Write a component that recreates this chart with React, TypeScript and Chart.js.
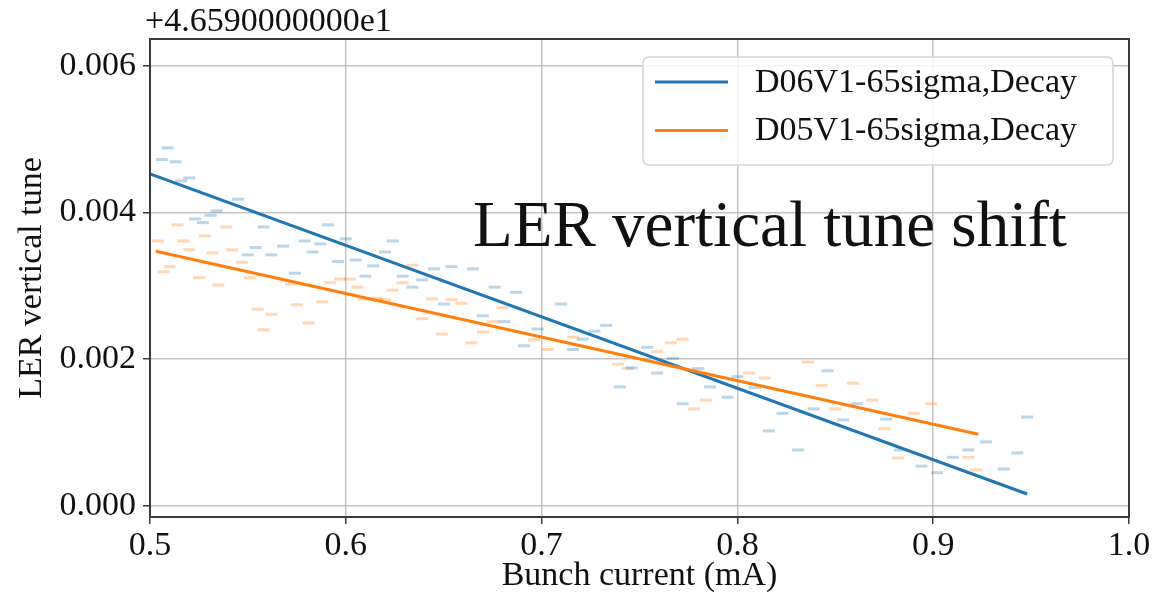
import { useEffect, useRef } from "react";
import { Chart, registerables } from "chart.js";

Chart.register(...registerables);

// Bunch current (mA) and vertical tune (offset from 46.59) for each measurement run
const D06_CURRENT = [
  0.509, 0.506, 0.513, 0.52, 0.516, 0.545, 0.534, 0.531, 0.523, 0.527, 0.558, 0.591,
  0.554, 0.55, 0.568, 0.579, 0.587, 0.583, 0.562, 0.596, 0.574, 0.6, 0.624, 0.62,
  0.605, 0.614, 0.61, 0.629, 0.634, 0.639, 0.645, 0.654, 0.665, 0.676, 0.687, 0.65,
  0.67, 0.681, 0.691, 0.71, 0.698, 0.716, 0.721, 0.727, 0.733, 0.754, 0.746, 0.759,
  0.767, 0.78, 0.74, 0.772, 0.786, 0.8, 0.795, 0.809, 0.846, 0.823, 0.839, 0.816,
  0.831, 0.854, 0.861, 0.876, 0.927, 0.918, 0.91, 0.894, 0.902, 0.943, 0.936, 0.948,
  0.883,
];
const D06_TUNE = [
  0.00488, 0.00472, 0.00469, 0.00447, 0.00443, 0.00418, 0.00402, 0.00396, 0.00391, 0.00386, 0.0038, 0.00383,
  0.00352, 0.00342, 0.00354, 0.00361, 0.00357, 0.00346, 0.00342, 0.00333, 0.00317, 0.00364, 0.00361, 0.00346,
  0.00335, 0.00327, 0.00313, 0.00313, 0.00298, 0.00308, 0.00323, 0.00326, 0.00323, 0.00298, 0.00291, 0.00275,
  0.00259, 0.00251, 0.00218, 0.00275, 0.00241, 0.00213, 0.00227, 0.00238, 0.00246, 0.00216, 0.00188, 0.00181,
  0.00201, 0.00187, 0.00162, 0.00139, 0.00162, 0.00176, 0.00148, 0.00161, 0.00184, 0.00126, 0.00132, 0.00102,
  0.00076, 0.00117, 0.00139, 0.00118, 0.00087, 0.00076, 0.00066, 0.00054, 0.00045, 0.00072, 0.0005, 0.00121,
  0.00076,
];
const D05_CURRENT = [
  0.514, 0.504, 0.517, 0.528, 0.539, 0.52, 0.532, 0.542, 0.547, 0.51, 0.507, 0.525,
  0.535, 0.551, 0.572, 0.575, 0.555, 0.562, 0.558, 0.581, 0.588, 0.592, 0.597, 0.602,
  0.606, 0.624, 0.629, 0.634, 0.609, 0.616, 0.62, 0.644, 0.654, 0.659, 0.639, 0.649,
  0.67, 0.664, 0.675, 0.68, 0.703, 0.716, 0.696, 0.739, 0.744, 0.759, 0.766, 0.772,
  0.784, 0.778, 0.806, 0.836, 0.814, 0.843, 0.859, 0.85, 0.869, 0.875, 0.882, 0.899,
  0.89, 0.918, 0.922,
];
const D05_TUNE = [
  0.00383, 0.00361, 0.00361, 0.00368, 0.0038, 0.00349, 0.00345, 0.00349, 0.00332, 0.00326, 0.00319, 0.00311,
  0.00301, 0.00311, 0.00302, 0.00274, 0.00268, 0.00261, 0.0024, 0.00249, 0.00278, 0.00304, 0.00309, 0.00309,
  0.00298, 0.00294, 0.00304, 0.00328, 0.00282, 0.00283, 0.00281, 0.00282, 0.00281, 0.00276, 0.00255, 0.00234,
  0.00237, 0.00222, 0.00251, 0.0027, 0.00213, 0.0023, 0.00226, 0.00193, 0.00187, 0.0021, 0.00222, 0.00227,
  0.00144, 0.00132, 0.00181, 0.00196, 0.00174, 0.00164, 0.00167, 0.00132, 0.00144, 0.00105, 0.00065, 0.00139,
  0.00126, 0.00066, 0.00049,
];

// Linear fits for each run (end points)
const D06_FIT_CURRENT = [0.5, 0.948];
const D06_FIT_TUNE = [0.004525, 0.00016];
const D05_FIT_CURRENT = [0.503, 0.923];
const D05_FIT_TUNE = [0.00347, 0.000975];

const X_TICKS = [0.5, 0.6, 0.7, 0.8, 0.9, 1.0];
const Y_TICKS = [0.0, 0.002, 0.004, 0.006];
const SERIES_LABELS = ["D06V1-65sigma,Decay", "D05V1-65sigma,Decay"];
const TUNE_OFFSET_LABEL = "+4.6590000000e1";
const HEADLINE = "LER vertical tune shift";
const X_TITLE = "Bunch current (mA)";
const Y_TITLE = "LER vertical tune";

const BLUE = "#1f77b4";
const ORANGE = "#ff7f0e";
const BLUE_DOT = "rgba(31,119,180,0.3)";
const ORANGE_DOT = "rgba(255,127,14,0.3)";
const SERIF = "'Liberation Serif', 'Times New Roman', serif";
const TEXT = "#111111";

const pairs = (xs: number[], ys: number[]) => xs.map((x, i) => ({ x, y: ys[i] }));

// Frame, offset label, headline and legend box drawn over the plot
const overlayPlugin = {
  id: "overlay",
  afterDraw(chart: any) {
    const { ctx, chartArea } = chart;
    const xs = chart.scales.x;
    const ys = chart.scales.y;
    ctx.save();

    // axes frame
    ctx.strokeStyle = "#3a3a3a";
    ctx.lineWidth = 2;
    ctx.strokeRect(chartArea.left, chartArea.top, chartArea.right - chartArea.left, chartArea.bottom - chartArea.top);

    // offset label above the y axis
    ctx.fillStyle = TEXT;
    ctx.font = `34px ${SERIF}`;
    ctx.textAlign = "left";
    ctx.textBaseline = "alphabetic";
    ctx.fillText(TUNE_OFFSET_LABEL, chartArea.left - 5, chartArea.top - 8);

    // headline inside the plot
    ctx.font = `65px ${SERIF}`;
    ctx.fillText(HEADLINE, xs.getPixelForValue(0.665), ys.getPixelForValue(0.003543));

    // legend
    ctx.font = `34px ${SERIF}`;
    const boxW = 470;
    const boxH = 108;
    const boxR = chartArea.right - 16;
    const boxL = boxR - boxW;
    const boxT = chartArea.top + 18;
    ctx.beginPath();
    ctx.roundRect(boxL, boxT, boxW, boxH, 6);
    ctx.fillStyle = "rgba(255,255,255,0.85)";
    ctx.fill();
    ctx.strokeStyle = "#d4d4d4";
    ctx.lineWidth = 1.5;
    ctx.stroke();

    const colors = [BLUE, ORANGE];
    SERIES_LABELS.forEach((label, i) => {
      const cy = boxT + 25 + i * 48.5;
      ctx.strokeStyle = colors[i];
      ctx.lineWidth = 3;
      ctx.beginPath();
      ctx.moveTo(boxL + 12, cy);
      ctx.lineTo(boxL + 85, cy);
      ctx.stroke();
      ctx.fillStyle = TEXT;
      ctx.textBaseline = "middle";
      ctx.fillText(label, boxL + 112, cy + 1);
    });
    ctx.restore();
  },
};

export default function App() {
  const canvasRef = useRef<HTMLCanvasElement | null>(null);

  useEffect(() => {
    if (!canvasRef.current) return;
    const chart = new Chart(canvasRef.current, {
      type: "scatter",
      data: {
        datasets: [
          {
            label: SERIES_LABELS[1],
            data: pairs(D05_FIT_CURRENT, D05_FIT_TUNE),
            showLine: true,
            borderColor: ORANGE,
            borderWidth: 3,
            pointRadius: 0,
            order: 0,
          },
          {
            label: SERIES_LABELS[0],
            data: pairs(D06_FIT_CURRENT, D06_FIT_TUNE),
            showLine: true,
            borderColor: BLUE,
            borderWidth: 3,
            pointRadius: 0,
            order: 1,
          },
          {
            label: SERIES_LABELS[0] + " data",
            data: pairs(D06_CURRENT, D06_TUNE),
            pointStyle: "line",
            pointRadius: 6,
            pointBorderWidth: 3,
            borderColor: BLUE_DOT,
            backgroundColor: BLUE_DOT,
            order: 2,
          },
          {
            label: SERIES_LABELS[1] + " data",
            data: pairs(D05_CURRENT, D05_TUNE),
            pointStyle: "line",
            pointRadius: 6,
            pointBorderWidth: 3,
            borderColor: ORANGE_DOT,
            backgroundColor: ORANGE_DOT,
            order: 3,
          },
        ],
      },
      options: {
        responsive: false,
        maintainAspectRatio: false,
        animation: false,
        layout: { padding: { top: 39, right: 38, left: 0, bottom: 0 } },
        plugins: { legend: { display: false }, tooltip: { enabled: false } },
        scales: {
          x: {
            type: "linear",
            min: 0.5,
            max: 1.0,
            afterBuildTicks: (scale: any) => {
              scale.ticks = X_TICKS.map((value) => ({ value }));
            },
            afterFit: (scale: any) => {
              scale.height = 81;
            },
            ticks: {
              color: TEXT,
              font: { family: SERIF, size: 34 },
              padding: 2,
              maxRotation: 0,
              callback: (v: any) => Number(v).toFixed(1),
            },
            grid: {
              color: "rgba(176,176,176,0.75)",
              lineWidth: 1.5,
              tickLength: 7,
              tickColor: "#3a3a3a",
              tickWidth: 1.5,
            },
            border: { display: false },
            title: {
              display: true,
              text: X_TITLE,
              color: TEXT,
              font: { family: SERIF, size: 34 },
              padding: { top: 0, bottom: 2 },
            },
          },
          y: {
            type: "linear",
            min: -0.000154,
            max: 0.006364,
            afterBuildTicks: (scale: any) => {
              scale.ticks = Y_TICKS.map((value) => ({ value }));
            },
            afterFit: (scale: any) => {
              scale.width = 150;
            },
            ticks: {
              color: TEXT,
              font: { family: SERIF, size: 34 },
              padding: 7,
              callback: (v: any) => Number(v).toFixed(3),
            },
            grid: {
              color: "rgba(176,176,176,0.75)",
              lineWidth: 1.5,
              tickLength: 7,
              tickColor: "#3a3a3a",
              tickWidth: 1.5,
            },
            border: { display: false },
            title: {
              display: true,
              text: Y_TITLE,
              color: TEXT,
              font: { family: SERIF, size: 34 },
              padding: { top: 12, bottom: 0 },
            },
          },
        },
      },
      plugins: [overlayPlugin],
    } as any);
    return () => chart.destroy();
  }, []);

  return (
    <div style={{ position: "fixed", left: 0, top: 0, width: 1167, height: 598, background: "#ffffff" }}>
      <canvas ref={canvasRef} width={1167} height={598} style={{ display: "block" }} />
    </div>
  );
}
